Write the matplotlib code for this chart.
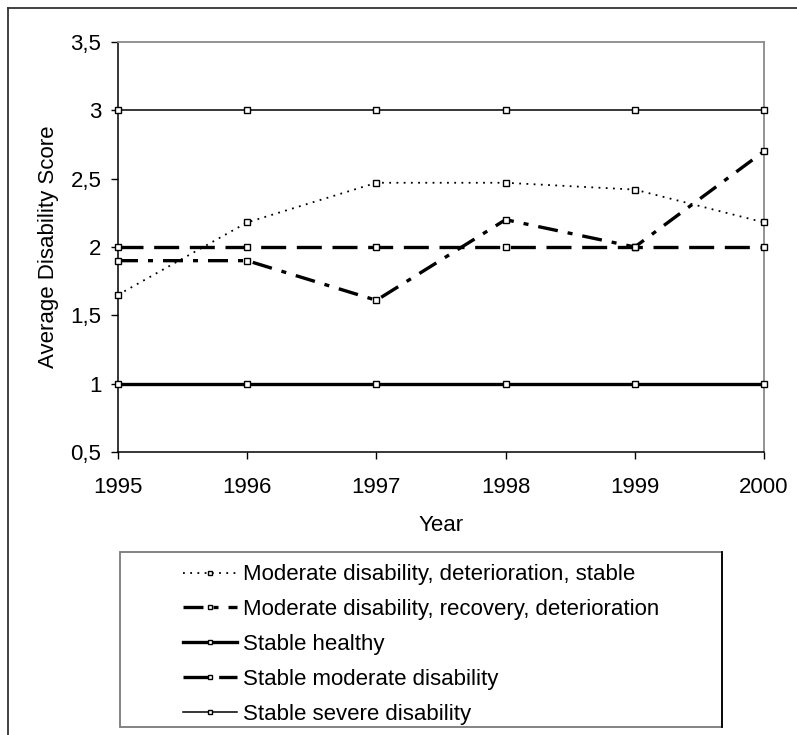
import matplotlib
matplotlib.use('Agg')

import matplotlib.pyplot as plt
from matplotlib.lines import Line2D
from matplotlib.patches import Rectangle

plt.rcParams['font.family'] = ['Liberation Sans', 'DejaVu Sans']

years = [1995, 1996, 1997, 1998, 1999, 2000]
mod_det_stable = [1.65, 2.18, 2.47, 2.47, 2.42, 2.18]
mod_rec_det = [1.90, 1.90, 1.61, 2.20, 2.00, 2.70]
stable_healthy = [1, 1, 1, 1, 1, 1]
stable_moderate = [2, 2, 2, 2, 2, 2]
stable_severe = [3, 3, 3, 3, 3, 3]

labels = ["Moderate disability, deterioration, stable",
          "Moderate disability, recovery, deterioration",
          "Stable healthy",
          "Stable moderate disability",
          "Stable severe disability"]
y_ticks = [0.5, 1, 1.5, 2, 2.5, 3, 3.5]
y_ticklabels = ["0,5", "1", "1,5", "2", "2,5", "3", "3,5"]

W, H = 797, 735
fig = plt.figure(figsize=(W / 100, H / 100), dpi=100)
ax = fig.add_axes([118 / W, 1 - 452 / H, 646 / W, 410 / H])

marker = dict(marker='s', markersize=3.8, markerfacecolor='white',
              markeredgecolor='black', markeredgewidth=1.0)

series = [
    (mod_det_stable, dict(lw=1.3, ls=(0, (1, 3)))),
    (mod_rec_det, dict(lw=2.4, ls=(0, (6, 3, 1.5, 3)))),
    (stable_healthy, dict(lw=2.4, ls='-')),
    (stable_moderate, dict(lw=2.4, ls=(0, (7.5, 3.2)))),
    (stable_severe, dict(lw=1.1, ls='-')),
]
handles = []
for (vals, style), lab in zip(series, labels):
    ln, = ax.plot(years, vals, color='black', label=lab, clip_on=False,
                  zorder=3, **style, **marker)
    handles.append(ln)

ax.set_xlim(1995, 2000)
ax.set_ylim(0.5, 3.5)
ax.set_xticks(years)
ax.set_xticklabels([str(y) for y in years])
ax.set_yticks(y_ticks)
ax.set_yticklabels(y_ticklabels)
ax.tick_params(direction='out', length=5, width=1, labelsize=16, color='black')
ax.tick_params(axis='x', pad=13)
ax.tick_params(axis='y', pad=7)

for side in ['top', 'right']:
    ax.spines[side].set_color('#8a8a8a')
    ax.spines[side].set_linewidth(1.3)
for side in ['left', 'bottom']:
    ax.spines[side].set_color('black')
    ax.spines[side].set_linewidth(1.1)

ax.set_xlabel("Year", fontsize=16, labelpad=12)
ax.set_ylabel("Average Disability Score", fontsize=16, labelpad=8)

# legend box: frame drawn separately, entries centred inside it
bx0, by0, bx1, by1 = 120, 552, 722, 727
fig.add_artist(Rectangle((bx0 / W, 1 - by1 / H), (bx1 - bx0) / W, (by1 - by0) / H,
                         transform=fig.transFigure, facecolor='white',
                         edgecolor='#7a7a7a', lw=1.3, zorder=1))
fig.add_artist(Line2D([bx1 / W, bx1 / W], [1 - by1 / H, 1 - by0 / H],
                      transform=fig.transFigure, color='black', lw=1.3, zorder=2))
leg = fig.legend(handles=handles, labels=labels, loc='center',
                 bbox_to_anchor=(bx0 / W, 1 - (by1 + 5) / H, (bx1 - bx0) / W, (by1 - by0) / H),
                 fontsize=16, frameon=False, borderaxespad=0,
                 handlelength=2.45, handletextpad=0.28, labelspacing=0.62,
                 borderpad=0.2, markerscale=0.9)
leg.set_zorder(3)

# outer frame lines (top and left edges)
fig.add_artist(Line2D([8 / W, 1], [1 - 8 / H, 1 - 8 / H],
                      transform=fig.transFigure, color='#333333', lw=1.3))
fig.add_artist(Line2D([8 / W, 8 / W], [0, 1 - 8 / H],
                      transform=fig.transFigure, color='#333333', lw=1.3))

fig.savefig("out.png", dpi=100)
